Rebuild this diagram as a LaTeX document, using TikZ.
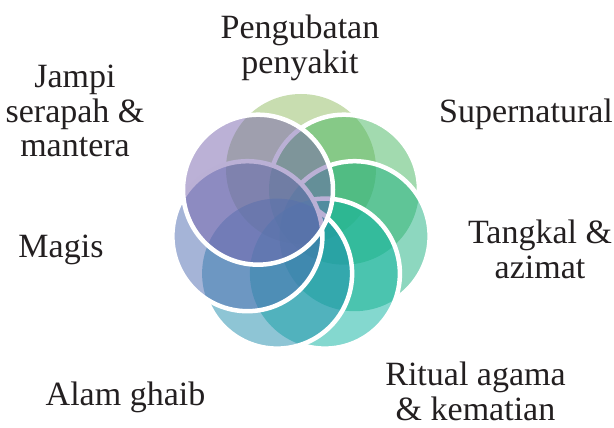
\documentclass[tikz,border=0pt]{standalone}
\usepackage{fontspec}
\setmainfont{Liberation Serif}
\definecolor{col0}{HTML}{91BB61}
\definecolor{col1}{HTML}{47B761}
\definecolor{col2}{HTML}{1DB181}
\definecolor{col3}{HTML}{0BB3A1}
\definecolor{col4}{HTML}{1F8DAD}
\definecolor{col5}{HTML}{4D6BB1}
\definecolor{col6}{HTML}{7763AD}
\definecolor{labelgray}{HTML}{231F20}
\begin{document}
\begin{tikzpicture}[x=1pt,y=-1pt,
  ring/.style={white,line width=4.5pt},
  lab/.style={font=\fontsize{34}{35}\selectfont, text=labelgray, align=center, inner sep=0pt, anchor=base}]
\useasboundingbox (0,0) rectangle (614,428);
\coordinate (c0) at (301,169);
\coordinate (c1) at (344,189.7);
\coordinate (c2) at (354.6,236.2);
\coordinate (c3) at (324.9,273.6);
\coordinate (c4) at (277.1,273.6);
\coordinate (c5) at (247.4,236.2);
\coordinate (c6) at (258,189.7);
% first circle
\fill[col0, fill opacity=.5] (c0) circle [radius=75pt];
% circles 1..5: fills blend with earlier fills, earlier outlines hidden
\foreach \k/\prev in {1/{0}, 2/{0,1}, 3/{0,1,2}, 4/{0,1,2,3}, 5/{0,1,2,3,4}} {
  \begin{scope}
    \clip (c\k) circle [radius=75pt];
    \fill[white] (c\k) circle [radius=77pt];
    \foreach \j in \prev {\fill[col\j, fill opacity=.5] (c\j) circle [radius=75pt];}
  \end{scope}
  \fill[col\k, fill opacity=.5] (c\k) circle [radius=75pt];
  \draw[ring] (c\k) circle [radius=75pt];
}
% last circle on top of everything
\fill[col6, fill opacity=.5] (c6) circle [radius=75pt];
\draw[ring] (c6) circle [radius=75pt];
% labels (anchor = baseline of the last line)
\node[lab] (l0) at (300,74) {Pengubatan\\penyakit};
\node[lab] (l1) at (526,123) {Supernatural};
\node[lab] (l2) at (540,278) {Tangkal \&\\azimat};
\node[lab] (l3) at (475.5,420) {Ritual agama\\\& kematian};
\node[lab] (l4) at (125.5,405) {Alam ghaib};
\node[lab] (l5) at (61,257) {Magis};
\node[lab] (l6) at (75,157) {Jampi\\serapah \&\\mantera};
\end{tikzpicture}
\end{document}
